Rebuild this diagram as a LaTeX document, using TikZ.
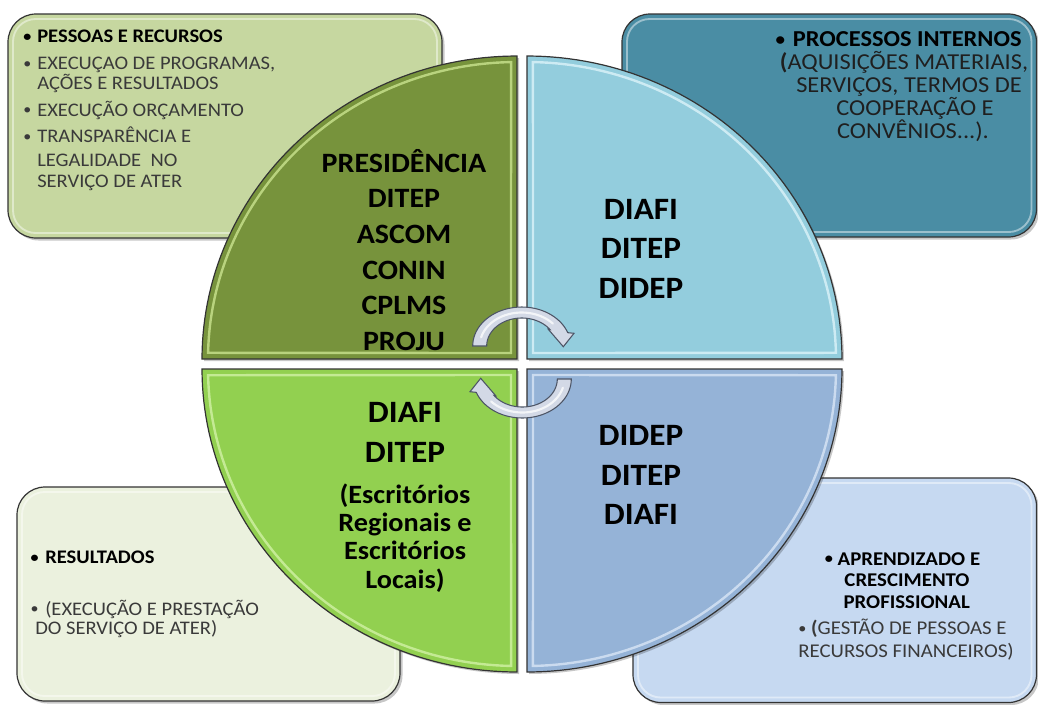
\documentclass[tikz,border=0pt]{standalone}
\usepackage{fontspec}
\setmainfont{Carlito}[FakeStretch=1.07]
\definecolor{tlbox}{HTML}{C6D7A0}
\definecolor{trbox}{HTML}{4A8DA4}
\definecolor{blbox}{HTML}{EBF1DE}
\definecolor{brbox}{HTML}{C6D9F1}
\definecolor{tlq}{HTML}{77933C}
\definecolor{trq}{HTML}{93CDDD}
\definecolor{blq}{HTML}{92D050}
\definecolor{brq}{HTML}{95B3D7}
\definecolor{tlqhi}{HTML}{C5DF8A}
\definecolor{trqhi}{HTML}{D8F1F8}
\definecolor{blqhi}{HTML}{CDEFA0}
\definecolor{brqhi}{HTML}{D5E3F4}
\definecolor{edge}{HTML}{333333}
\definecolor{txtgray}{HTML}{3A3A3A}
\definecolor{arrowfill}{HTML}{D3D9E6}
\definecolor{arrowline}{HTML}{4D5566}
\newcommand{\smallbul}{\raisebox{0.06em}{\scalebox{0.78}{•}}}
\newcommand{\mybul}{\llap{\smallbul\hspace{4.5pt}}}
\begin{document}
\begin{tikzpicture}[x=0.75pt,y=-0.75pt,
  cbox/.style={rounded corners=21pt, draw=edge, line width=0.9pt},
  cboxhi/.style={rounded corners=17pt, draw=white, opacity=0.45, line width=1.4pt},
  shadowsty/.style={fill=black, opacity=0.22},
  quad/.style={draw=edge, line width=0.9pt},
  quadhi/.style={line width=1.8pt, opacity=0.85},
  cyclearrow/.style={fill=arrowfill, draw=arrowline, line width=0.8pt},
  txtA/.style={font=\fontsize{14.4}{17}\selectfont, text=txtgray, inner sep=0pt, anchor=base west},
  txtAb/.style={txtA, font=\bfseries\fontsize{14.4}{17}\selectfont, text=black},
  txtB/.style={font=\fontsize{17.1}{20}\selectfont, text=black!88, inner sep=0pt, anchor=base},
  txtBb/.style={txtB, font=\bfseries\fontsize{17.1}{20}\selectfont, text=black},
  txtC/.style={font=\fontsize{14.6}{18}\selectfont, text=txtgray, inner sep=0pt, anchor=base},
  txtCb/.style={txtC, font=\bfseries\fontsize{14.6}{18}\selectfont, text=black},
  qa/.style={font=\bfseries\fontsize{21}{25}\selectfont, text=black, inner sep=0pt, anchor=base},
  qb/.style={font=\bfseries\fontsize{23.3}{27}\selectfont, text=black, inner sep=0pt, anchor=base},
  qc/.style={font=\bfseries\fontsize{19.8}{24}\selectfont, text=black, inner sep=0pt, anchor=base}
]
\useasboundingbox (0,0) rectangle (1038,704);

% ---- corner boxes ----
\fill[shadowsty, rounded corners=21pt] (10.5,16.5) rectangle (444.5,240.5);
\draw[cbox, fill=tlbox] (8,14) rectangle (442,238);
\draw[cboxhi] (13,19) rectangle (437,233);

\fill[shadowsty, rounded corners=21pt] (624.5,16.5) rectangle (1039,239.5);
\draw[cbox, fill=trbox] (622,14) rectangle (1036.5,237);
\draw[cboxhi] (627,19) rectangle (1031.5,232);

\fill[shadowsty, rounded corners=21pt] (19.5,489.5) rectangle (402.5,703.5);
\draw[cbox, fill=blbox] (17,487) rectangle (400,701);
\draw[cboxhi] (22,492) rectangle (395,696);

\fill[shadowsty, rounded corners=21pt] (635.5,480.5) rectangle (1039,705);
\draw[cbox, fill=brbox] (633,478) rectangle (1036.5,702.5);
\draw[cboxhi] (638,483) rectangle (1031.5,697.5);

% ---- quadrants ----
\fill[shadowsty] (519,361) -- plot[domain=180:270,samples=60] ({519+315*cos(\x)},{361+303*sin(\x)}) -- cycle;
\draw[quad, fill=tlq] (517,359) -- plot[domain=180:270,samples=60] ({517+315*cos(\x)},{359+303*sin(\x)}) -- cycle;
\draw[quadhi, draw=tlqhi] (511,353) -- plot[domain=181.2:268.9,samples=60] ({517+309*cos(\x)},{359+297*sin(\x)}) -- cycle;

\fill[shadowsty] (529,361) -- plot[domain=270:360,samples=60] ({529+315*cos(\x)},{361+303*sin(\x)}) -- cycle;
\draw[quad, fill=trq] (527,359) -- plot[domain=270:360,samples=60] ({527+315*cos(\x)},{359+303*sin(\x)}) -- cycle;
\draw[quadhi, draw=trqhi] (533,353) -- plot[domain=271.1:358.8,samples=60] ({527+309*cos(\x)},{359+297*sin(\x)}) -- cycle;

\fill[shadowsty] (519,371) -- plot[domain=90:180,samples=60] ({519+315*cos(\x)},{371+303*sin(\x)}) -- cycle;
\draw[quad, fill=blq] (517,369) -- plot[domain=90:180,samples=60] ({517+315*cos(\x)},{369+303*sin(\x)}) -- cycle;
\draw[quadhi, draw=blqhi] (511,375) -- plot[domain=91.1:178.8,samples=60] ({517+309*cos(\x)},{369+297*sin(\x)}) -- cycle;

\fill[shadowsty] (529,371) -- plot[domain=0:90,samples=60] ({529+315*cos(\x)},{371+303*sin(\x)}) -- cycle;
\draw[quad, fill=brq] (527,369) -- plot[domain=0:90,samples=60] ({527+315*cos(\x)},{369+303*sin(\x)}) -- cycle;
\draw[quadhi, draw=brqhi] (533,375) -- plot[domain=1.2:88.9,samples=60] ({527+309*cos(\x)},{369+297*sin(\x)}) -- cycle;

% ---- box texts ----
\node[txtAb] (tl1) at (37,42.7) {\mybul PESSOAS E RECURSOS};
\node[txtA] (tl2) at (37,69.3) {\mybul EXECUÇAO DE PROGRAMAS,};
\node[txtA] (tl3) at (37,89.3) {AÇÕES E RESULTADOS};
\node[txtA] (tl4) at (37,116) {\mybul EXECUÇÃO ORÇAMENTO};
\node[txtA] (tl5) at (37,142.7) {\mybul TRANSPARÊNCIA E};
\node[txtA] (tl6) at (37,166) {LEGALIDADE\ \ NO};
\node[txtA] (tl7) at (37,187.7) {SERVIÇO DE ATER};

\node[txtBb] (tr1) at (898.5,46.5) {\smallbul\hspace{6pt}PROCESSOS INTERNOS};
\node[txtB] (tr2) at (904,69.5) {\textbf{(}AQUISIÇÕES MATERIAIS,};
\node[txtB] (tr3) at (909,92.5) {SERVIÇOS, TERMOS DE};
\node[txtB] (tr4) at (915,115.5) {COOPERAÇÃO E};
\node[txtB] (tr5) at (913,138.5) {CONVÊNIOS...).};

\node[txtAb] (bl1) at (45,563.3) {\llap{\smallbul\hspace{5pt}}RESULTADOS};
\node[txtA] (bl2) at (45,615) {\llap{\smallbul\hspace{5pt}}(EXECUÇÃO E PRESTAÇÃO};
\node[txtA] (bl3) at (35,634.3) {DO SERVIÇO DE ATER)};

\node[txtCb] (br1) at (902.5,565) {\smallbul\ APRENDIZADO E};
\node[txtCb] (br2) at (907,586.7) {CRESCIMENTO};
\node[txtCb] (br3) at (906.7,608.3) {PROFISSIONAL};
\node[txtC] (br4) at (902.5,634.3) {\smallbul\ \textbf{(}GESTÃO DE PESSOAS E};
\node[txtC] (br5) at (906,657.5) {RECURSOS FINANCEIROS)};

% ---- quadrant texts ----
\node[qa] (q11) at (404,172) {PRESIDÊNCIA};
\node[qa] (q12) at (404,207.5) {DITEP};
\node[qa] (q13) at (404,243) {ASCOM};
\node[qa] (q14) at (404,279) {CONIN};
\node[qa] (q15) at (404,314) {CPLMS};
\node[qa] (q16) at (404,350) {PROJU};

\node[qb] (q21) at (641,219) {DIAFI};
\node[qb] (q22) at (641,258.5) {DITEP};
\node[qb] (q23) at (641,298) {DIDEP};

\node[qb] (q31) at (405,422.5) {DIAFI};
\node[qb] (q32) at (405,462.5) {DITEP};
\node[qc] (q33) at (405,503) {(Escritórios};
\node[qc] (q34) at (405,531) {Regionais e};
\node[qc] (q35) at (405,559.5) {Escritórios};
\node[qc] (q36) at (405,588) {Locais)};

\node[qb] (q41) at (641,445) {DIDEP};
\node[qb] (q42) at (641,485) {DITEP};
\node[qb] (q43) at (641,524.5) {DIAFI};

% ---- cycle arrows ----
\begin{scope}[shift={(521.7,346)}]
\path[cyclearrow] (-49,0) -- plot[domain=180:340,samples=40] ({49*cos(\x)},{39*sin(\x)}) -- (52.3,-12.7) -- (41.6,0.7) -- (26.6,-16.7) -- plot[domain=324:180,samples=40] ({35*cos(\x)},{28*sin(\x)}) -- cycle;
\draw[white, opacity=0.75, line width=1.6pt, line cap=round] plot[domain=195:318,samples=30] ({42*cos(\x)},{33.5*sin(\x)});
\end{scope}
\begin{scope}[shift={(522.3,379)}, rotate=180]
\path[cyclearrow] (-49,0) -- plot[domain=180:340,samples=40] ({49*cos(\x)},{39*sin(\x)}) -- (52.3,-12.7) -- (41.6,0.7) -- (26.6,-16.7) -- plot[domain=324:180,samples=40] ({35*cos(\x)},{28*sin(\x)}) -- cycle;
\draw[white, opacity=0.75, line width=1.6pt, line cap=round] plot[domain=195:318,samples=30] ({42*cos(\x)},{33.5*sin(\x)});
\end{scope}
\end{tikzpicture}
\end{document}
